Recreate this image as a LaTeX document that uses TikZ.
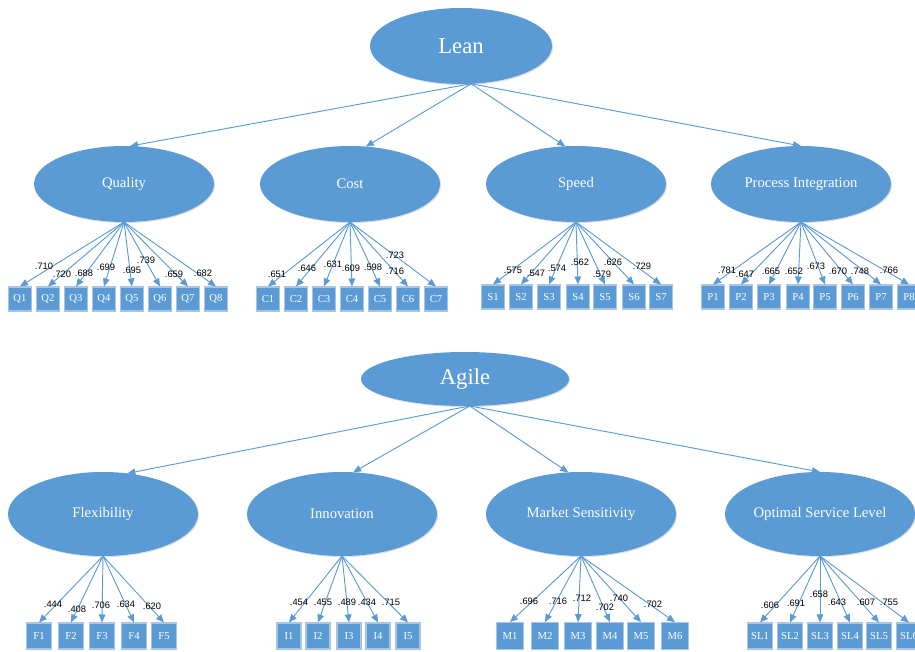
\documentclass[tikz,border=0pt]{standalone}
\usepackage{fontspec}
\setmainfont{Liberation Serif}
\newfontfamily\numfont{Liberation Sans}
\usetikzlibrary{shapes.geometric,arrows.meta,shadows}

\definecolor{boxblue}{RGB}{91,155,213}
\definecolor{edgeblue}{RGB}{170,196,226}

\tikzset{
  latent/.style={ellipse, fill=boxblue, draw=none, text=white, inner sep=0pt, outer sep=0pt,
    drop shadow={opacity=0.25, shadow xshift=0.8pt, shadow yshift=-0.8pt}},
  item/.style={rectangle, fill=boxblue, draw=edgeblue, line width=0.8pt, text=white,
    inner sep=0pt, minimum width=17.25pt, minimum height=18pt, font=\fontsize{8}{9}\selectfont},
  link/.style={draw=boxblue, line width=0.7pt, -{Triangle[length=6pt,width=5pt]}},
  load/.style={inner sep=0pt, font=\numfont\fontsize{7}{8}\selectfont}
}

\begin{document}
\begin{tikzpicture}[x=0.75pt, y=-0.75pt]
\useasboundingbox (0,0) rectangle (915,652);

% --- Lean ---
\node[latent, minimum width=136.5pt, minimum height=57pt, font=\fontsize{17}{20}\selectfont] (lean) at (461,46) {Lean};

\node[latent, minimum width=135pt, minimum height=57pt, font=\fontsize{11}{13}\selectfont] (quality) at (124,184) {Quality};
\node[latent, minimum width=135pt, minimum height=57pt, font=\fontsize{11}{13}\selectfont] (cost) at (350,184) {Cost};
\node[latent, minimum width=135pt, minimum height=57pt, font=\fontsize{11}{13}\selectfont] (speed) at (576,184) {Speed};
\node[latent, minimum width=135pt, minimum height=57pt, font=\fontsize{11}{13}\selectfont] (process) at (801,184) {Process Integration};

\draw[link] (lean.-75) -- (quality.81);
\draw[link] (lean.-75) -- (cost.67);
\draw[link] (lean.-75) -- (speed.106);
\draw[link] (lean.-75) -- (process.north);

% indicators of Lean
\foreach \n/\x/\v/\lx/\ly in {Q1/20/.710/44/266, Q2/48/.720/62/274, Q3/76/.688/84/273, Q4/104/.699/106/267,
    Q5/132/.695/132/270, Q6/160/.739/146/260, Q7/188/.659/174/274, Q8/216/.682/203/273}
{
    \node[item] (\n) at (\x,299) {\n};
    \draw[link] (quality.south) -- (\n.north);
    \node[load] (v\n) at (\lx,\ly) {\v};
}
\foreach \n/\x/\v/\lx/\ly in {C1/268/.651/277/274, C2/296/.646/307/268, C3/324/.631/333/264, C4/352/.609/351/268,
    C5/380/.598/373/267, C6/408/.716/395/271, C7/436/.723/395/255}
{
    \node[item] (\n) at (\x,299) {\n};
    \draw[link] (cost.south) -- (\n.north);
    \node[load] (v\n) at (\lx,\ly) {\v};
}
\foreach \n/\x/\v/\lx/\ly in {S1/493/.575/513/270, S2/521/.547/536/273, S3/549/.574/557/268, S4/578/.562/580/262,
    S5/605/.579/602/274, S6/634/.626/613/262, S7/661/.729/642/266}
{
    \node[item] (\n) at (\x,297) {\n};
    \draw[link] (speed.south) -- (\n.north);
    \node[load] (v\n) at (\lx,\ly) {\v};
}
\foreach \n/\x/\v/\lx/\ly in {P1/713/.781/727/270, P2/741/.647/745/274, P3/769/.665/771/271, P4/798/.652/794/271,
    P5/825/.673/816/266, P6/853/.670/838/271, P7/881/.748/860/271, P8/909/.766/889/270}
{
    \node[item] (\n) at (\x,297) {\n};
    \draw[link] (process.south) -- (\n.north);
    \node[load] (v\n) at (\lx,\ly) {\v};
}

% --- Agile ---
\node[latent, minimum width=156pt, minimum height=40.5pt, font=\fontsize{17}{20}\selectfont] (agile) at (465,379) {Agile};

\node[latent, minimum width=142.5pt, minimum height=63pt, font=\fontsize{11}{13}\selectfont] (flex) at (103,514) {Flexibility};
\node[latent, minimum width=142.5pt, minimum height=63pt, font=\fontsize{11}{13}\selectfont] (innov) at (342,514) {Innovation};
\node[latent, minimum width=142.5pt, minimum height=63pt, font=\fontsize{11}{13}\selectfont] (market) at (581,514) {Market Sensitivity};
\node[latent, minimum width=142.5pt, minimum height=63pt, font=\fontsize{11}{13}\selectfont] (service) at (820,514) {Optimal Service Level};

\draw[link] (agile.-80) -- (flex.59);
\draw[link] (agile.-80) -- (innov.75);
\draw[link] (agile.-80) -- (market.107);
\draw[link] (agile.-80) -- (service.north);

% indicators of Agile
\foreach \n/\x/\v/\lx/\ly in {F1/39/.444/53/604, F2/71/.408/77/609, F3/102/.706/101/605,
    F4/134/.634/126/604, F5/164/.620/152/606}
{
    \node[item, minimum width=18.5pt, minimum height=19.5pt] (\n) at (\x,636) {\n};
    \draw[link] (flex.south) -- (\n.north);
    \node[load] (v\n) at (\lx,\ly) {\v};
}
\foreach \n/\x/\v/\lx/\ly in {I1/289/.454/299/602, I2/318/.455/323/602, I3/349/.489/347/602,
    I4/378/.434/367/602, I5/408/.715/391/602}
{
    \node[item, minimum width=18pt, minimum height=19.5pt] (\n) at (\x,636) {\n};
    \draw[link] (innov.south) -- (\n.north);
    \node[load] (v\n) at (\lx,\ly) {\v};
}
\foreach \n/\x/\v/\lx/\ly in {M1/510/.696/529/601, M2/545/.716/558/601, M3/578/.712/582/598,
    M4/610/.702/605/607, M5/641/.740/619/598, M6/675/.702/653/604}
{
    \node[item, minimum width=20pt, minimum height=20pt] (\n) at (\x,636) {\n};
    \draw[link] (market.south) -- (\n.north);
    \node[load] (v\n) at (\lx,\ly) {\v};
}
\foreach \n/\x/\v/\lx/\ly in {SL1/760/.606/770/605, SL2/790/.691/796/603, SL3/820/.658/819/594,
    SL4/850/.643/837/602, SL5/879/.607/866/602, SL6/909/.755/889/602}
{
    \node[item, minimum width=19pt, minimum height=19.5pt] (\n) at (\x,636) {\n};
    \draw[link] (service.south) -- (\n.north);
    \node[load] (v\n) at (\lx,\ly) {\v};
}
\end{tikzpicture}
\end{document}
